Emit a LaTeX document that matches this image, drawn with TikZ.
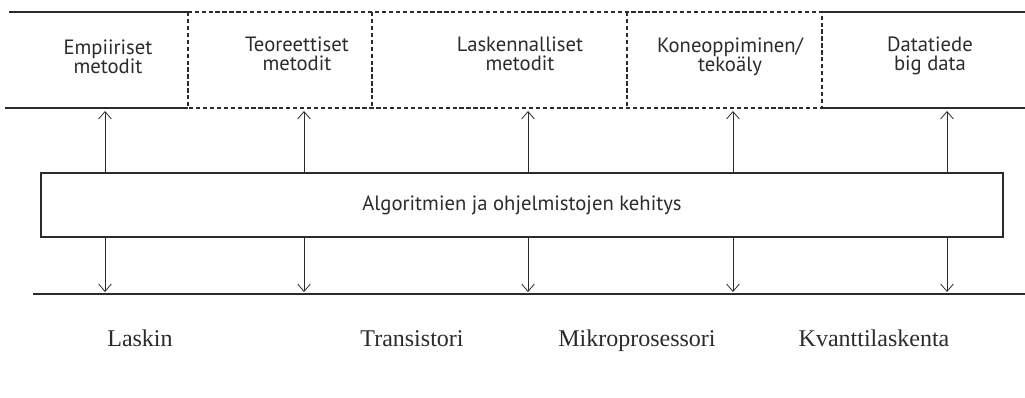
\documentclass[tikz,border=0pt]{standalone}
\usepackage{fontspec}
\setmainfont{Liberation Serif}
\newfontfamily\sansf{PT Sans}
\usetikzlibrary{arrows.meta}
\definecolor{ink}{HTML}{2b2b2b}
\tikzset{
  band/.style={draw=ink, line width=1.1pt},
  dashband/.style={draw=ink, line width=1.1pt, dash pattern=on 3.2pt off 2pt},
  toplabel/.style={font=\sansf\fontsize{15.5}{14.3}\selectfont, text=ink, align=center, inner sep=0pt, anchor=base},
  botlabel/.style={font=\fontsize{18}{20}\selectfont, text=ink, inner sep=0pt, anchor=base},
  mainbox/.style={draw=ink, line width=1.1pt, minimum width=721.5pt, minimum height=48pt, inner sep=0pt, font=\sansf\fontsize{15.5}{18}\selectfont, text=ink},
  conn/.style={draw=ink, line width=0.6pt, -{Straight Barb[length=5.5pt,width=9.5pt,line width=0.6pt]}}
}
\begin{document}
\begin{tikzpicture}[x=0.75pt,y=-0.75pt]
\useasboundingbox (0,0) rectangle (1025,398);
% top band
\draw[band] (9,12) -- (188,12);
\draw[band] (5,108) -- (188,108);
\draw[band] (822,12) -- (1025,12);
\draw[band] (822,108) -- (1025,108);
\draw[dashband] (188,12) rectangle (822,108);
\draw[dashband] (372,12) -- (372,108);
\draw[dashband] (627,12) -- (627,108);
% top labels (base = baseline of last line)
\node[toplabel] (emp) at (108,74) {Empiiriset\\metodit};
\node[toplabel] (teo) at (297,71) {Teoreettiset\\metodit};
\node[toplabel] (las) at (520,71) {Laskennalliset\\metodit};
\node[toplabel] (kon) at (730,72) {Koneoppiminen/\\tekoäly};
\node[toplabel] (dat) at (930,71) {Datatiede\\big data};
% central box
\node[mainbox] (box) at (522,205) {Algoritmien ja ohjelmistojen kehitys};
% bottom line
\draw[band] (33,294) -- (1025,294);
% arrow tip coordinates
\foreach \i/\x in {1/105,2/304,3/528,4/733,5/947}{
  \coordinate (u\i) at (\x,111);
  \coordinate (d\i) at (\x,292);
}
\foreach \i in {1,...,5}{
  \draw[conn] (box.north -| u\i) -- (u\i);
  \draw[conn] (box.south -| d\i) -- (d\i);
}
% bottom labels
\node[botlabel] (las2) at (140,347) {Laskin};
\node[botlabel] (tra) at (412,347) {Transistori};
\node[botlabel] (mik) at (637,347) {Mikroprosessori};
\node[botlabel] (kva) at (874,347) {Kvanttilaskenta};
\end{tikzpicture}
\end{document}
